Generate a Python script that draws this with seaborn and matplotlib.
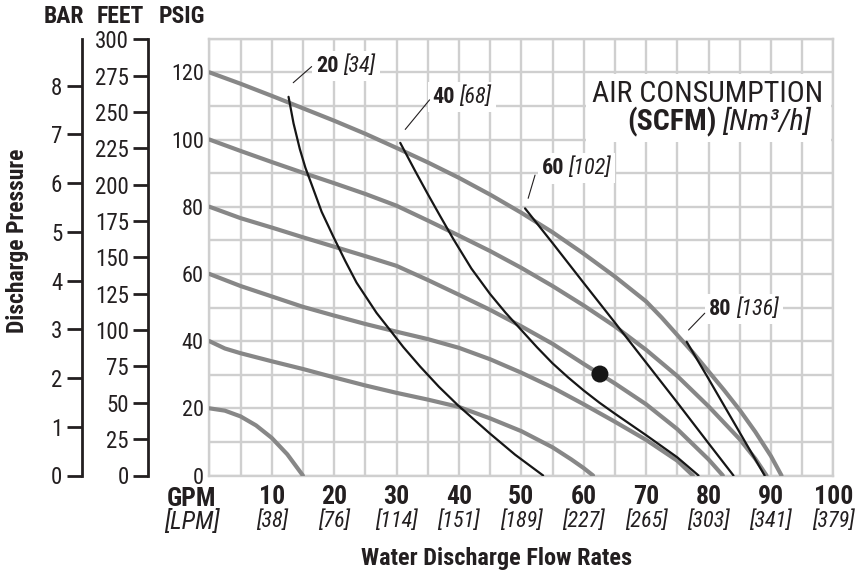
import matplotlib
matplotlib.use("Agg")
import matplotlib.pyplot as plt
from matplotlib import font_manager
from matplotlib.patches import Rectangle
import pandas as pd
import seaborn as sns

# performance curves: discharge pressure (psig) vs. flow (gpm) per air inlet pressure
P20_GPM = [0, 2.5, 5, 7.5, 10, 12.5, 15]
P20_PSIG = [20, 19.3, 17.6, 14.9, 11.2, 6.3, 0]
P40_GPM = [0, 2.5, 5, 10, 15, 20, 25, 30, 35, 40, 45, 50, 55, 58, 60, 61.5]
P40_PSIG = [40, 37.8, 36.4, 34, 31.7, 29.2, 26.8, 24.6, 22.6, 20.4, 17, 13.2, 8.4, 4.8, 2.2, 0]
P60_GPM = [0, 5, 10, 15, 20, 25, 30, 35, 40, 45, 50, 55, 60, 65, 70, 75, 77.5]
P60_PSIG = [60, 56.4, 53.3, 50.2, 47.6, 45.1, 42.8, 40.6, 38, 34.6, 30.6, 26.2, 21.2, 16, 10.6, 4.4, 0]
P80_GPM = [0, 5, 10, 15, 20, 25, 30, 35, 40, 45, 50, 55, 60, 65, 70, 75, 80, 82.3]
P80_PSIG = [80, 76.6, 73.8, 70.9, 68.1, 65.3, 62.4, 58.2, 53.8, 49.3, 44.4, 39.2, 33.2, 27.4, 21.2, 13.8, 4.8, 0]
P100_GPM = [0, 5, 10, 15, 20, 25, 30, 35, 40, 45, 50, 55, 60, 65, 70, 75, 80, 85, 87.5, 89.3]
P100_PSIG = [100, 96.6, 93.3, 90.1, 87, 83.8, 80.3, 75.9, 71.4, 66.8, 61.8, 56.4, 50.6, 44.4, 37.4, 29.6, 20.6, 10.8, 5, 0]
P120_GPM = [0, 5, 10, 15, 20, 25, 30, 35, 40, 45, 50, 55, 60, 65, 70, 72.5, 75, 77.5,
            80, 82.5, 85, 87.5, 90, 91.7]
P120_PSIG = [120, 116.6, 113, 109.3, 105.6, 101.7, 97.5, 93.2, 88.6, 83.6, 78.2, 72.4, 66, 59.2,
             51.8, 47, 41.8, 36.6, 31, 25.4, 19.5, 13, 5.8, 0]

# air consumption lines (scfm)
S20_GPM = [12.7, 13.5, 14.5, 15.4, 16.4, 18, 19.9, 21.8, 23.6, 26.8, 29, 31.1, 33.8, 36.8,
           39.9, 44.9, 49, 53.5]
S20_PSIG = [112.7, 104.8, 97.2, 91.6, 86.6, 78.5, 71, 63.8, 57.4, 48.4, 43.2, 38.2, 32.4, 26.4,
            20.8, 12.6, 6.2, 0]
S40_GPM = [30.6, 31.4, 33, 35, 37, 39.1, 42, 45, 47.5, 50, 52.5, 55, 57.5, 60, 62.5, 65, 70, 75, 78.4]
S40_PSIG = [99, 96.2, 90.6, 83.8, 77.2, 70.4, 61.6, 54, 48.4, 43.3, 38.2, 33.4, 29.2, 25.3, 21.7, 18.4, 12, 5.4, 0]
S60_GPM = [50.6, 55, 60, 65, 70, 75, 80, 84]
S60_PSIG = [79.5, 69.2, 57.3, 45.5, 33.6, 21.7, 9.6, 0]
S80_GPM = [76.5, 80, 85, 89]
S80_PSIG = [39.8, 28.8, 12.8, 0]

SCFM = ["20", "40", "60", "80"]
NM3H = ["[34]", "[68]", "[102]", "[136]"]

DOT_GPM = [62.6]
DOT_PSIG = [30.2]

GPM_TICKS = [10, 20, 30, 40, 50, 60, 70, 80, 90, 100]
LPM_LABELS = ["[38]", "[76]", "[114]", "[151]", "[189]", "[227]", "[265]", "[303]", "[341]", "[379]"]
PSIG_TICKS = [0, 20, 40, 60, 80, 100, 120]
FEET_TICKS = [0, 25, 50, 75, 100, 125, 150, 175, 200, 225, 250, 275, 300]
BAR_TICKS = [0, 1, 2, 3, 4, 5, 6, 7, 8]

gray = pd.concat([
    pd.DataFrame({"gpm": x, "psig": y, "curve": name})
    for name, x, y in [("20", P20_GPM, P20_PSIG), ("40", P40_GPM, P40_PSIG),
                       ("60", P60_GPM, P60_PSIG), ("80", P80_GPM, P80_PSIG),
                       ("100", P100_GPM, P100_PSIG), ("120", P120_GPM, P120_PSIG)]
])
air = pd.concat([
    pd.DataFrame({"gpm": x, "psig": y, "curve": name})
    for name, x, y in zip(SCFM, [S20_GPM, S40_GPM, S60_GPM, S80_GPM],
                          [S20_PSIG, S40_PSIG, S60_PSIG, S80_PSIG])
])

sns.set_style("white")

# pick a condensed face if one is installed, else plain Liberation Sans
fonts = font_manager.fontManager.ttflist
names = {f.name for f in fonts}
FONT, STRETCH, K = "Liberation Sans", "normal", 0.82
for cand in ["Liberation Sans Narrow", "Roboto Condensed", "Open Sans Condensed",
             "Noto Sans Condensed"]:
    if cand in names:
        FONT, K = cand, 1.0
        break
else:
    for fam in ["Roboto", "Noto Sans", "Open Sans", "Liberation Sans"]:
        if any(f.name == fam and f.stretch in ("condensed", "semi-condensed")
               for f in fonts):
            FONT, STRETCH, K = fam, "condensed", 1.0
            break
plt.rcParams["font.family"] = [FONT, "DejaVu Sans"]
plt.rcParams["font.stretch"] = STRETCH

INK = "#231f20"
GRID = "#cfcfcf"

fig = plt.figure(figsize=(8.6, 5.77), dpi=100)
bottom, height = 101.5 / 577, 436.8 / 577
ax = fig.add_axes([209.3 / 860, bottom, 624 / 860, height])

sns.lineplot(data=gray, x="gpm", y="psig", units="curve", estimator=None,
             color="#878787", lw=3, ax=ax, zorder=3)
sns.lineplot(data=air, x="gpm", y="psig", units="curve", estimator=None,
             color="#161616", lw=1.6, ax=ax, zorder=4)
sns.scatterplot(x=DOT_GPM, y=DOT_PSIG, s=150, color="#161616", ax=ax, zorder=5,
                edgecolor="none")

ax.set_xlim(0, 100)
ax.set_ylim(0, 130)
ax.set_xticks(GPM_TICKS)
ax.set_xticks(range(0, 100, 5), minor=True)
ax.set_yticks(PSIG_TICKS)
ax.set_yticks(range(10, 131, 20), minor=True)
ax.set_xticklabels([str(t) for t in GPM_TICKS], fontweight="bold", fontsize=18.5 * K)
ax.tick_params(axis="both", which="both", length=0, colors=INK)
ax.tick_params(axis="x", pad=7)
ax.tick_params(axis="y", labelsize=16 * K, pad=4)
ax.grid(True, which="both", color=GRID, lw=1.7)
ax.set_axisbelow(True)
for s in ax.spines.values():
    s.set_color(GRID)
    s.set_linewidth(1.7)
ax.set_xlabel("")
ax.set_ylabel("")

xt = ax.get_xaxis_transform()
for g, lab in zip(GPM_TICKS, LPM_LABELS):
    ax.text(g, -0.104, lab, transform=xt, ha="center", va="center",
            fontsize=16 * K, style="italic", color=INK)
ax.text(-2.8, -0.054, "GPM", transform=xt, ha="center", va="center",
        fontsize=18.5 * K, fontweight="bold", color=INK)
ax.text(-2.8, -0.106, "[LPM]", transform=xt, ha="center", va="center",
        fontsize=18 * K, style="italic", color=INK)

# air consumption legend box
ax.add_patch(Rectangle((60.3, 99.4), 39.4, 20.2, facecolor="white",
                       edgecolor="none", zorder=2))
ax.text(79.8, 113.6, "AIR CONSUMPTION", ha="center", va="center",
        fontsize=21.5 * K, color=INK, zorder=6)
t = ax.text(81.3, 105.2, "(SCFM)", ha="right", va="center", fontsize=21.5 * K,
            fontweight="bold", color=INK, zorder=6)
ax.annotate("[Nm³/h]", xy=(1, 0.5), xycoords=t, xytext=(4, 0),
            textcoords="offset points", ha="left", va="center",
            fontsize=21.5 * K, style="italic", color=INK, zorder=6)

# scfm labels with leader lines
label_pos = [(17.2, 121.9), (35.8, 112.6), (53.3, 91.4), (80.1, 49.5)]
leaders = [((13.45, 116.9), (16.4, 121.7)), ((31.4, 103), (35.3, 111.8)),
           ((51.1, 82.5), (52.2, 89.4)), ((76.8, 43.3), (79.4, 48.3))]
box = dict(facecolor="white", edgecolor="none", pad=3)
for num, nm, (lx, ly), (p0, p1) in zip(SCFM, NM3H, label_pos, leaders):
    t = ax.text(lx, ly, num, ha="left", va="center", fontsize=16 * K,
                fontweight="bold", color=INK, zorder=6, bbox=box)
    ax.annotate(nm, xy=(1, 0.5), xycoords=t, xytext=(3, 0),
                textcoords="offset points", ha="left", va="center",
                fontsize=16 * K, style="italic", color=INK, zorder=6, bbox=box)
    ax.plot([p0[0], p1[0]], [p0[1], p1[1]], color=INK, lw=0.8, zorder=6)

# secondary pressure scales
for xpos, top, ticks in [(148.3, 130 * 2.31, FEET_TICKS), (81.7, 130 / 14.5038, BAR_TICKS)]:
    a = fig.add_axes([xpos / 860, bottom, 0.001, height])
    a.patch.set_visible(False)
    for side in ["top", "right", "bottom"]:
        a.spines[side].set_visible(False)
    a.spines["left"].set_color(INK)
    a.spines["left"].set_linewidth(2)
    a.set_ylim(0, top)
    a.set_yticks(ticks)
    a.set_xticks([])
    a.tick_params(axis="y", left=True, length=11, width=2, color=INK,
                  labelsize=16.5 * K, labelcolor=INK, pad=3)

for xc, txt in [(64, "BAR"), (120, "FEET"), (182, "PSIG")]:
    fig.text(xc / 860, 1 - 16.7 / 577, txt, ha="center", va="center",
             fontsize=17 * K, fontweight="bold", color=INK)
fig.text(18 / 860, 1 - 241 / 577, "Discharge Pressure", rotation=90,
         ha="center", va="center", fontsize=17 * K, fontweight="bold", color=INK)
fig.text(496.5 / 860, 1 - 558 / 577, "Water Discharge Flow Rates",
         ha="center", va="center", fontsize=17.5 * K, fontweight="bold", color=INK)

fig.savefig("out.png", dpi=100)
plt.close(fig)
